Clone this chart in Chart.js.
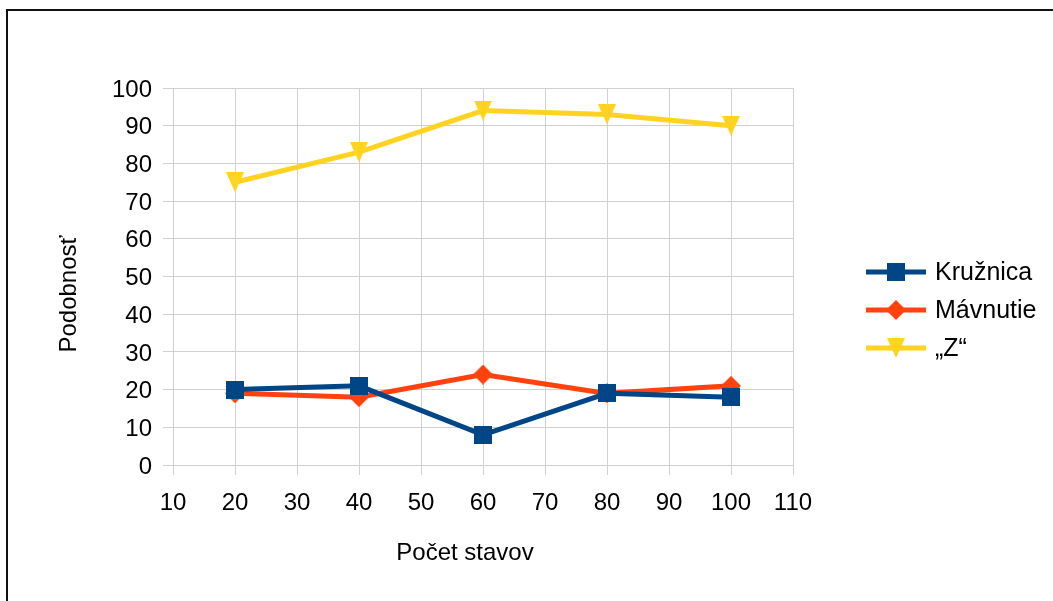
<!DOCTYPE html>
<html>
<head>
<meta charset="utf-8">
<script src="https://cdn.jsdelivr.net/npm/chart.js@4/dist/chart.umd.min.js"></script>
<style>
  html, body { margin: 0; padding: 0; background: #fff; overflow: hidden; }
  #wrap { position: relative; width: 1053px; height: 601px; }
  #frame { position: absolute; left: 6px; top: 9px; width: 1100px; height: 700px;
           border-left: 2px solid #111; border-top: 2px solid #111; pointer-events: none; }
  canvas { position: absolute; left: 0; top: 0; }
</style>
</head>
<body>
<div id="wrap">
  <canvas id="c" width="1053" height="601"></canvas>
  <div id="frame"></div>
</div>
<script>
// Number of states on the x axis
const pocetStavov = [20, 40, 60, 80, 100];
// Similarity values per gesture
const kruznica = [20, 21, 8, 19, 18];
const mavnutie = [19, 18, 24, 19, 21];
const zetko   = [75, 83, 94, 93, 90];

const seriesNames = ['Kružnica', 'Mávnutie', '„Z“'];
const seriesColors = ['#004586', '#ff420e', '#ffd320'];

const xTitle = 'Počet stavov';
const yTitle = 'Podobnosť';
const FONT = '"Liberation Sans", Arial, sans-serif';

// Marker images
function makeMarker(kind, color) {
  const c = document.createElement('canvas');
  const g = c.getContext('2d');
  if (kind === 'square') {
    c.width = 18; c.height = 18;
    g.fillStyle = color; g.fillRect(0, 0, 18, 18);
  } else if (kind === 'diamond') {
    c.width = 20; c.height = 20;
    g.fillStyle = color;
    g.beginPath(); g.moveTo(10, 0); g.lineTo(20, 10); g.lineTo(10, 20); g.lineTo(0, 10); g.closePath(); g.fill();
  } else {
    c.width = 18; c.height = 20;
    g.fillStyle = color;
    g.beginPath(); g.moveTo(0, 0); g.lineTo(18, 0); g.lineTo(9, 20); g.closePath(); g.fill();
  }
  return c;
}
const markers = [
  makeMarker('square', seriesColors[0]),
  makeMarker('diamond', seriesColors[1]),
  makeMarker('triangle', seriesColors[2])
];

function toPoints(vals) { return vals.map((v, i) => ({ x: pocetStavov[i], y: v })); }

const datasets = [kruznica, mavnutie, zetko].map((vals, i) => ({
  label: seriesNames[i],
  data: toPoints(vals),
  borderColor: seriesColors[i],
  backgroundColor: seriesColors[i],
  borderWidth: 5,
  pointStyle: markers[i],
  pointRadius: 10,
  pointHoverRadius: 10,
  tension: 0
}));

// Axis titles and legend
const decorations = {
  id: 'decorations',
  afterDraw(chart) {
    const ctx = chart.ctx;
    ctx.save();
    ctx.fillStyle = '#000';
    ctx.font = '24px ' + FONT;
    ctx.textAlign = 'center';
    ctx.textBaseline = 'middle';
    ctx.fillText(xTitle, 465, 553);
    ctx.save();
    ctx.translate(69, 294);
    ctx.rotate(-Math.PI / 2);
    ctx.fillText(yTitle, 0, 0);
    ctx.restore();

    const rows = [272, 310, 348];
    ctx.textAlign = 'left';
    ctx.font = '25px ' + FONT;
    seriesNames.forEach((name, i) => {
      const y = rows[i];
      ctx.strokeStyle = seriesColors[i];
      ctx.lineWidth = 5;
      ctx.beginPath(); ctx.moveTo(866, y); ctx.lineTo(926, y); ctx.stroke();
      const m = markers[i];
      ctx.drawImage(m, 896 - m.width / 2, y - m.height / 2);
      ctx.fillStyle = '#000';
      ctx.fillText(name, 935, y + 1);
    });
    ctx.restore();
  }
};

new Chart(document.getElementById('c'), {
  type: 'line',
  data: { datasets },
  options: {
    responsive: false,
    animation: false,
    devicePixelRatio: 1,
    layout: { padding: { top: 88, right: 260, left: 0, bottom: 0 } },
    plugins: { legend: { display: false }, tooltip: { enabled: false } },
    scales: {
      x: {
        type: 'linear',
        min: 10, max: 110,
        ticks: { stepSize: 10, color: '#000', padding: 14, font: { family: FONT, size: 24 } },
        grid: { color: '#d0d0d0', lineWidth: 1, tickLength: 10, drawTicks: true },
        border: { color: '#d0d0d0' },
        afterFit(s) { s.height = 136; }
      },
      y: {
        min: 0, max: 100,
        ticks: { stepSize: 10, color: '#000', padding: 11, labelOffset: 2, font: { family: FONT, size: 24 } },
        grid: { color: '#d0d0d0', lineWidth: 1, tickLength: 10, drawTicks: true },
        border: { color: '#d0d0d0' },
        afterFit(s) { s.width = 173; }
      }
    }
  },
  plugins: [decorations]
});
</script>
</body>
</html>
